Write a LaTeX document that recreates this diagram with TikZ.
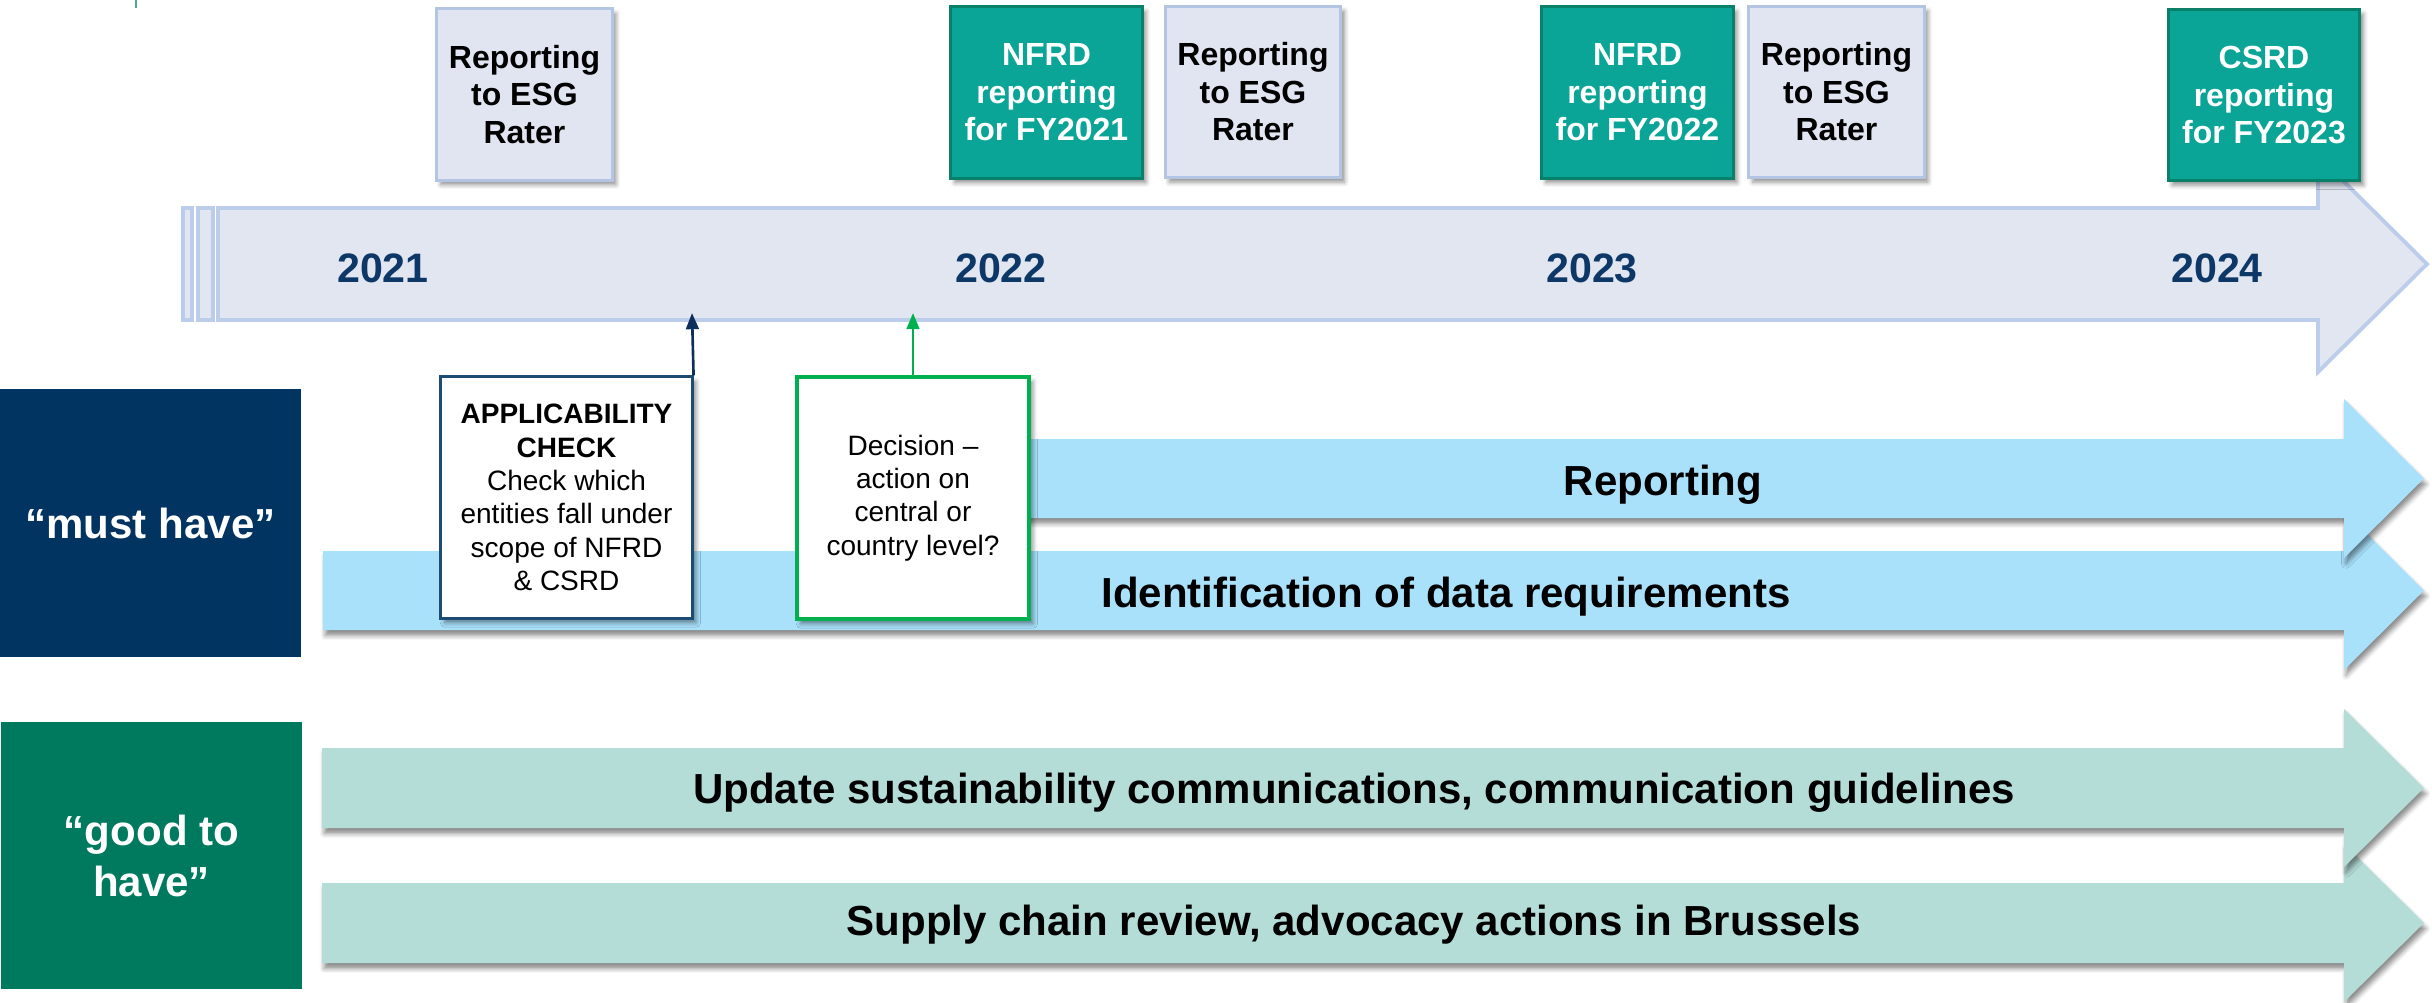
\documentclass[tikz,border=0pt]{standalone}
\usepackage{fontspec}
\setmainfont{Liberation Sans}
\usetikzlibrary{arrows.meta,shadows.blur}

\definecolor{raterfill}{HTML}{E0E5F1}
\definecolor{rateredge}{HTML}{B4C4E3}
\definecolor{nfrdfill}{HTML}{0AA596}
\definecolor{nfrdedge}{HTML}{08806A}
\definecolor{timefill}{HTML}{E1E6F1}
\definecolor{timeedge}{HTML}{BCCCEB}
\definecolor{yearblue}{HTML}{0D3766}
\definecolor{musthave}{HTML}{023462}
\definecolor{goodhave}{HTML}{007A5E}
\definecolor{skyband}{HTML}{A9E1FB}
\definecolor{mintband}{HTML}{B5DDD8}
\definecolor{appedge}{HTML}{1C4C74}
\definecolor{appconn}{HTML}{0E2F5C}
\definecolor{decedge}{HTML}{00B050}
\definecolor{tickteal}{HTML}{4AA593}

\tikzset{
  boxshadow/.style={blur shadow={shadow xshift=1.1pt, shadow yshift=-1.3pt,
      shadow blur radius=1.3pt, shadow opacity=45}},
  bandshadow/.style={blur shadow={shadow xshift=0.6pt, shadow yshift=-1.6pt,
      shadow blur radius=1.3pt, shadow opacity=45}},
  timeline/.style={fill=timefill, draw=timeedge, line width=1.1pt, line join=miter},
  yearlabel/.style={anchor=base, text=yearblue,
      font=\bfseries\fontsize{11.7}{14}\selectfont},
  raterbox/.style={rectangle, draw=rateredge, fill=raterfill, line width=0.85pt,
      minimum width=1.75cm, minimum height=1.71cm, inner sep=0pt, align=center,
      font=\bfseries\fontsize{9.1}{10.67}\selectfont, boxshadow},
  nfrdbox/.style={rectangle, draw=nfrdedge, fill=nfrdfill, line width=0.85pt,
      minimum width=1.91cm, minimum height=1.71cm, inner sep=0pt, align=center,
      text=white, font=\bfseries\fontsize{9.1}{10.67}\selectfont, boxshadow},
  groupbox/.style={rectangle, minimum width=3.01cm, inner sep=0pt, align=center,
      text=white, font=\bfseries\fontsize{11.95}{14.5}\selectfont},
  skyarrow/.style={fill=skyband, bandshadow},
  mintarrow/.style={fill=mintband, bandshadow},
  bandtext/.style={anchor=base, font=\bfseries\fontsize{11.95}{14}\selectfont},
  notebox/.style={rectangle, fill=white, line width=0.85pt, inner sep=0pt,
      align=center, font=\fontsize{7.97}{9.5}\selectfont, boxshadow},
  riser/.style={line width=0.75pt, -{Triangle[length=4.6pt,width=3.6pt]}}
}

\begin{document}
\begin{tikzpicture}[x=0.01cm,y=-0.01cm]
\useasboundingbox (0,0) rectangle (2432,1002);

% small tick in the top left corner
\draw[tickteal, line width=0.6pt] (136,0) -- (136,8);

% striped timeline arrow
\path[timeline] (183,208) rectangle (192,320);
\path[timeline] (198,208) rectangle (213,320);
\path[timeline] (218,208) -- (2318,208) -- (2318,156) -- (2427,264)
  -- (2318,372) -- (2318,320) -- (218,320) -- cycle;

% year labels
\node[yearlabel] (y2021) at (383,282) {2021};
\node[yearlabel] (y2022) at (1001,282) {2022};
\node[yearlabel] (y2023) at (1592,282) {2023};
\node[yearlabel] (y2024) at (2217,282) {2024};

% reporting milestones above the timeline
\node[raterbox] (rater1) at (524.5,94.5) {Reporting\\to ESG\\Rater};
\node[nfrdbox]  (nfrd1)  at (1046.5,92.5) {NFRD\\reporting\\for FY2021};
\node[raterbox] (rater2) at (1253,92) {Reporting\\to ESG\\Rater};
\node[nfrdbox]  (nfrd2)  at (1637.5,92.5) {NFRD\\reporting\\for FY2022};
\node[raterbox] (rater3) at (1836.5,92) {Reporting\\to ESG\\Rater};
\node[nfrdbox]  (csrd)   at (2264,95) {CSRD\\reporting\\for FY2023};

% priority groups
\node[groupbox, fill=musthave, minimum height=2.68cm] (must) at (150.5,523) {“must have”};
\node[groupbox, fill=goodhave, minimum height=2.67cm] (good) at (151.5,855.5) {“good to\\have”};

% "must have" work streams
\path[skyarrow] (323,551) -- (2344,551) -- (2344,511) -- (2424,590.5)
  -- (2344,670) -- (2344,630) -- (323,630) -- cycle;
\node[bandtext] (ident) at (1446,607) {Identification of data requirements};
\path[skyarrow] (830,439) -- (2344,439) -- (2344,399) -- (2424,478.5)
  -- (2344,558) -- (2344,518) -- (830,518) -- cycle;
\node[bandtext] (report) at (1663,495) {Reporting};

% "good to have" work streams
\path[mintarrow] (322,883) -- (2344,883) -- (2344,844) -- (2424,923)
  -- (2344,1002) -- (2344,963) -- (322,963) -- cycle;
\node[bandtext] (supply) at (1354,935) {Supply chain review, advocacy actions in Brussels};
\path[mintarrow] (322,748) -- (2344,748) -- (2344,709) -- (2424,788)
  -- (2344,867) -- (2344,828) -- (322,828) -- cycle;
\node[bandtext] (update) at (1354,803) {Update sustainability communications, communication guidelines};

% decision points feeding into the timeline
\node[notebox, draw=appedge, minimum width=2.51cm, minimum height=2.41cm] (app) at (566.5,497.5)
  {\textbf{APPLICABILITY}\\\textbf{CHECK}\\Check which\\entities fall under\\scope of NFRD\\\& CSRD};
\node[notebox, draw=decedge, line width=1.1pt, minimum width=2.32cm, minimum height=2.42cm] (dec) at (913,498)
  {Decision –\\action on\\central or\\country level?};

\coordinate (appmark) at (692,313);
\coordinate (decmark) at (913,313);
\draw[riser, appconn] (app.north east) -- (appmark);
\draw[riser, decedge] (dec.north) -- (decmark);
\end{tikzpicture}
\end{document}
